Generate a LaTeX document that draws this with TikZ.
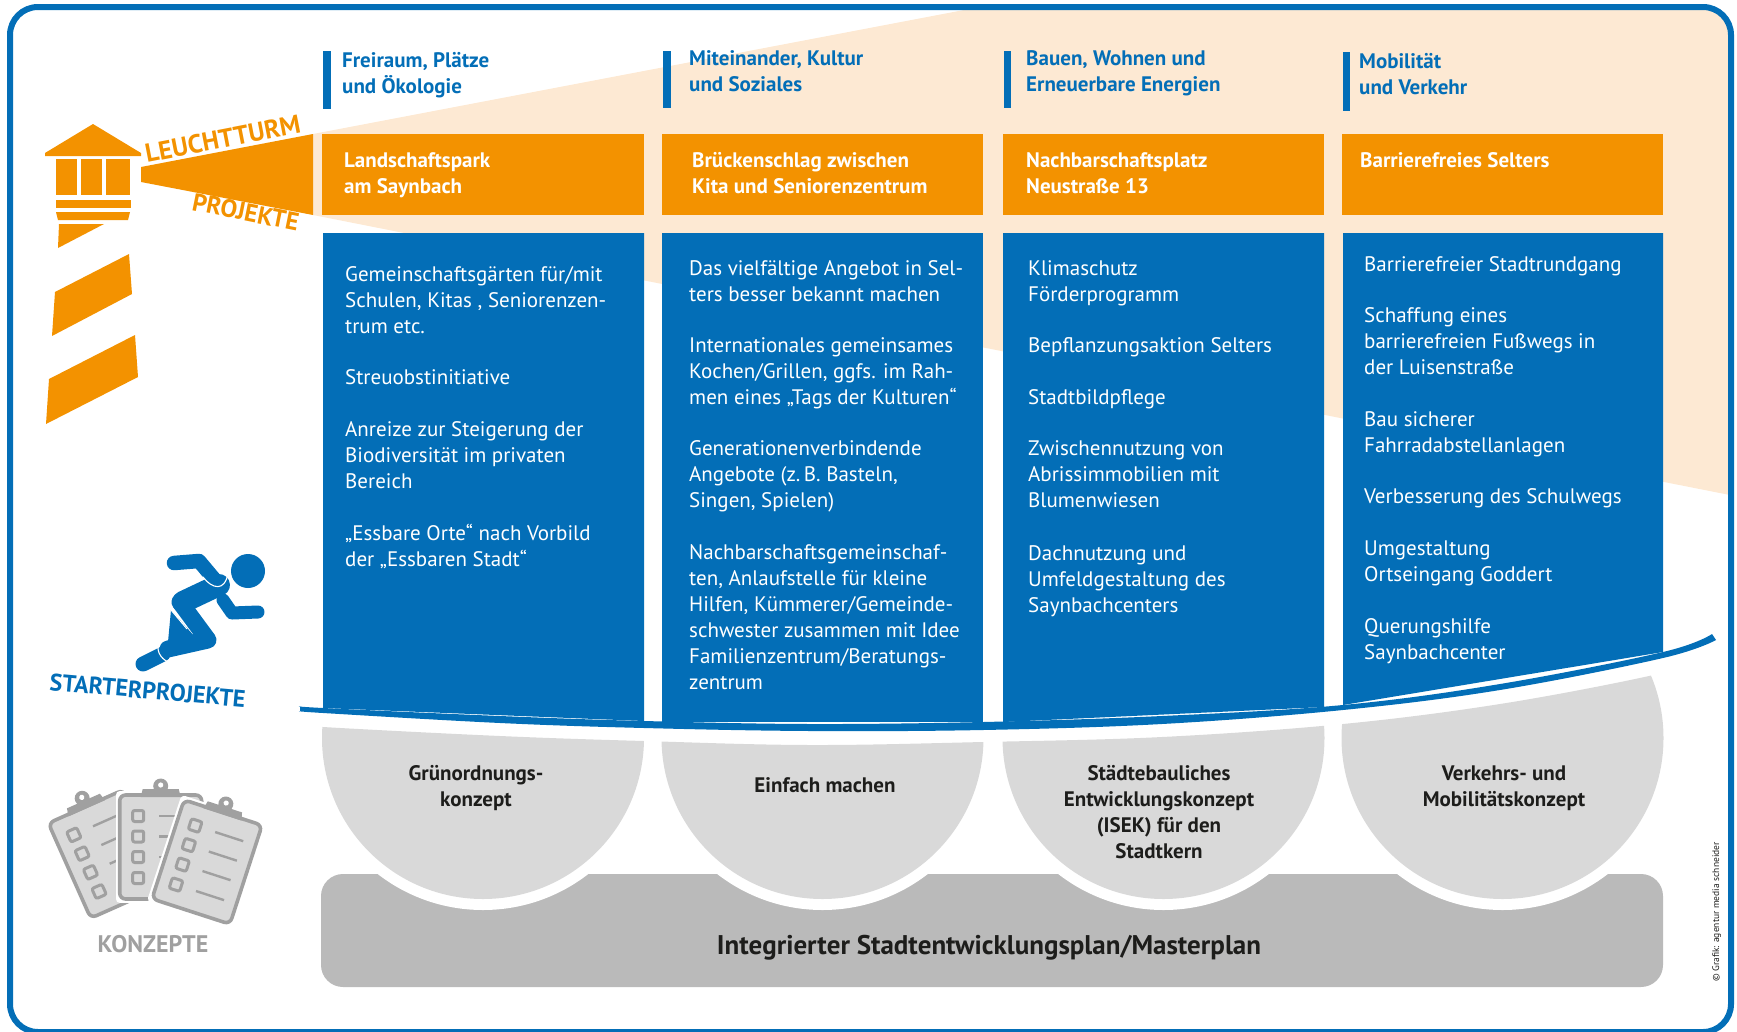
\documentclass[tikz,border=0pt]{standalone}
\usepackage{fontspec}
\setmainfont{PT Sans}
\definecolor{bl}{HTML}{036EB7}
\definecolor{org}{HTML}{F39200}
\definecolor{pale}{HTML}{FDE9D3}
\definecolor{lgray}{HTML}{D9D9D9}
\definecolor{mgray}{HTML}{BABABA}
\definecolor{dgray}{HTML}{A0A0A0}
\definecolor{ink}{HTML}{1D1D1B}
\newcommand{\fsz}[1]{\fontsize{#1}{26}\selectfont}
\tikzset{
  bodytext/.style={anchor=base west,inner sep=0pt,align=left,text=white,font=\fsz{21}},
  headtext/.style={anchor=base west,inner sep=0pt,align=left,text=bl,font=\fsz{21}\bfseries},
  projtext/.style={anchor=base west,inner sep=0pt,align=left,text=white,font=\fsz{21}\bfseries},
  konztext/.style={anchor=base,inner sep=0pt,align=center,text=ink,font=\fsz{21}\bfseries},
  slanted label/.style={anchor=base west,inner sep=0pt,font=\bfseries},
  clipboard/.pic={
    \draw[white,line width=8pt,line join=round] (-41,-52) rectangle (41,52);
    \draw[dgray,fill=lgray,line width=3.6pt,rounded corners=6pt] (-41,-52) rectangle (41,52);
    \fill[dgray] (-20,-50) -- (-18,-58) -- (18,-58) -- (20,-50) -- cycle;
    \fill[dgray] (0,-61) circle (7.5pt);
    \fill[white] (0,-62) circle (2.6pt);
    \foreach \v in {-31,-10.5,10,31}{
      \draw[dgray,line width=3pt,rounded corners=2pt] (-28,\v-5.5) rectangle (-17,\v+5.5);
      \draw[dgray,line width=2.4pt] (-1.5,\v) -- (28,\v);
    }
  }
}
\begin{document}
\begin{tikzpicture}[x=1pt,y=-1pt]
\useasboundingbox (0,0) rectangle (1737,1031);

% beam, pale
\begin{scope}
  \clip[rounded corners=28pt] (10,7) rectangle (1731,1060);
  \fill[pale] (313,134) -- (964,10) -- (1740,0) -- (1740,497) -- (313,215) -- cycle;
\end{scope}

% frame
\begin{scope}
  \clip (0,0) rectangle (1737,1031);
  \draw[bl,line width=6pt,rounded corners=28pt] (10,7) rectangle (1731,1032);
\end{scope}

% lighthouse
\fill[org] (93,124) -- (141,153) -- (141,156) -- (45,156) -- (45,153) -- cycle;
\fill[org] (56,159) rectangle (77,195);
\fill[org] (81,159) rectangle (102,195);
\fill[org] (106,159) rectangle (130,195);
\fill[org] (56,200) rectangle (131,208);
\fill[org] (56,212) -- (130,212) -- (128,220) -- (58,220) -- cycle;
\fill[org] (59,224) -- (104,224) -- (58,248) -- cycle;
\fill[org] (129,254) -- (132,294) -- (52,336) -- (55,292) -- cycle;
\fill[org] (135,335) -- (138,377) -- (46,424) -- (49,379) -- cycle;
\fill[org] (141,167) -- (313,134) -- (313,215) -- (141,182) -- cycle;
\node[slanted label,text=org,rotate=11,font=\fsz{26}\bfseries] (leuchtturm) at (147,163) {LEUCHTTURM};
\node[slanted label,text=org,rotate=-11.4,font=\fsz{25}\bfseries] (projekte) at (191,210) {PROJEKTE};

% header bars
\fill[bl] (323,51) rectangle (331,109);
\fill[bl] (663,51) rectangle (671,108);
\fill[bl] (1004,51) rectangle (1011,108);
\fill[bl] (1343,52) rectangle (1350,111);
\node[headtext] (h1) at (342,93) {Freiraum, Plätze\\und Ökologie};
\node[headtext] (h2) at (689,91) {Miteinander, Kultur\\und Soziales};
\node[headtext] (h3) at (1026,91) {Bauen, Wohnen und\\Erneuerbare Energien};
\node[headtext] (h4) at (1359,94) {Mobilität\\und Verkehr};

% orange boxes
\fill[org] (322,134) rectangle (644,215);
\fill[org] (662,134) rectangle (983,215);
\fill[org] (1003,134) rectangle (1324,215);
\fill[org] (1342,134) rectangle (1663,215);
\node[projtext] (p1) at (344,193) {Landschaftspark\\am Saynbach};
\node[projtext] (p2) at (692,193) {Brückenschlag zwischen\\Kita und Seniorenzentrum};
\node[projtext] (p3) at (1026,193) {Nachbarschaftsplatz\\Neustraße 13};
\node[projtext] (p4) at (1360,167) {Barrierefreies Selters};

% masterplan + halos + half circles
\fill[mgray,rounded corners=22pt] (321,874) rectangle (1663,987);
\begin{scope}
  \clip (300,800) rectangle (1700,1000);
  \foreach \cx in {483,822.5,1163.5,1502.5}
    \fill[white] (\cx,738) circle (172pt);
\end{scope}
\begin{scope}
  \clip plot[smooth,tension=.6] coordinates {(300,724) (323,727) (500,736) (644,741) (810,745) (983,742) (1162,737) (1343,724) (1500,704) (1649,676) (1700,660)} -- (1800,660) -- (1800,1000) -- (200,1000) -- cycle;
  \foreach \cx in {483,822.5,1163.5,1502.5}
    \fill[lgray] (\cx,738) circle (161pt);
\end{scope}

% blue boxes
\fill[bl] (323,233) -- (644,233) -- (644,721) -- (323,708) -- cycle;
\fill[bl] (662,233) -- (983,233) -- (983,722) -- (662,722) -- cycle;
\fill[bl] (1003,233) -- (1324,233) -- (1324,707) -- (1003,722) -- cycle;
\fill[bl] (1343,233) -- (1663,233) -- (1663,652) -- (1343,705) -- cycle;
% swoosh
\fill[bl] plot[smooth,tension=.6] coordinates {(300,706) (323,708) (500,716) (644,721) (810,724) (983,722) (1162,716) (1343,705) (1500,684) (1663,652) (1712,634)}
  -- plot[smooth,tension=.6] coordinates {(1716,640) (1663,658) (1500,690) (1343,710) (1162,724) (983,730) (810,731) (644,728) (500,723) (323,713) (300,711)} -- cycle;

% body text col 1
\node[bodytext] (a1) at (345,333) {Gemeinschaftsgärten für/mit\\Schulen, Kitas , Seniorenzen-\\trum etc.};
\node[bodytext] (a2) at (345,384) {Streuobstinitiative};
\node[bodytext] (a3) at (345,488) {Anreize zur Steigerung der\\Biodiversität im privaten\\Bereich};
\node[bodytext] (a4) at (345,566) {„Essbare Orte“ nach Vorbild\\der „Essbaren Stadt“};
% col 2
\node[bodytext] (b1) at (689,301) {Das vielfältige Angebot in Sel-\\ters besser bekannt machen};
\node[bodytext] (b2) at (689,404) {Internationales gemeinsames\\Kochen/Grillen, ggfs. im Rah-\\men eines „Tags der Kulturen“};
\node[bodytext] (b3) at (689,507) {Generationenverbindende\\Angebote (z.\,B. Basteln,\\Singen, Spielen)};
\node[bodytext] (b4) at (689,689) {Nachbarschaftsgemeinschaf-\\ten, Anlaufstelle für kleine\\Hilfen, Kümmerer/Gemeinde-\\schwester zusammen mit Idee\\Familienzentrum/Beratungs-\\zentrum};
% col 3
\node[bodytext] (c1) at (1028,301) {Klimaschutz\\Förderprogramm};
\node[bodytext] (c2) at (1028,352) {Bepflanzungsaktion Selters};
\node[bodytext] (c3) at (1028,404) {Stadtbildpflege};
\node[bodytext] (c4) at (1028,507) {Zwischennutzung von\\Abrissimmobilien mit\\Blumenwiesen};
\node[bodytext] (c5) at (1028,612) {Dachnutzung und\\Umfeldgestaltung des\\Saynbachcenters};
% col 4
\node[bodytext] (d1) at (1364,271) {Barrierefreier Stadtrundgang};
\node[bodytext] (d2) at (1364,374) {Schaffung eines\\barrierefreien Fußwegs in\\der Luisenstraße};
\node[bodytext] (d3) at (1364,452) {Bau sicherer\\Fahrradabstellanlagen};
\node[bodytext] (d4) at (1364,503) {Verbesserung des Schulwegs};
\node[bodytext] (d5) at (1364,581) {Umgestaltung\\Ortseingang Goddert};
\node[bodytext] (d6) at (1364,659) {Querungshilfe\\Saynbachcenter};

% concept texts
\node[konztext] (k1) at (476,806) {Grünordnungs-\\konzept};
\node[konztext] (k2) at (825,792) {Einfach machen};
\node[konztext] (k3) at (1159,858) {Städtebauliches\\Entwicklungskonzept\\(ISEK) für den\\Stadtkern};
\node[konztext] (k4) at (1504,806) {Verkehrs- und\\Mobilitätskonzept};
\node[anchor=base,inner sep=0pt,text=ink,font=\fsz{27}\bfseries] (master) at (989,954) {Integrierter Stadtentwicklungsplan/Masterplan};

% runner
\fill[bl] (248,571) circle (17pt);
\draw[bl,line width=14.5pt,line cap=round,line join=round] (174,563) -- (199,561) -- (220,586);
\draw[bl,line width=22pt,line cap=round,line join=round] (219,585) -- (183,602);
\draw[bl,line width=17pt,line cap=round,line join=round] (180,602) -- (208,640) -- (168,649);
\draw[bl,line width=15pt,line cap=round] (163,654) -- (143,664);
\fill[bl] (171,610) -- (168,642) -- (195,637) -- cycle;
\draw[bl,line width=13pt,line cap=round,line join=round] (223,600) -- (232,613) -- (258,612);
\draw[white,line width=1.1pt,line cap=round] (203,577) .. controls (212,589) and (225,592) .. (228,573);
\draw[white,line width=1.1pt,line cap=round] (159,643) .. controls (156,650) and (160,658) .. (168,662);
\draw[white,line width=1pt] (171,610) -- (187,629);
\node[slanted label,text=bl,rotate=-5.1,font=\fsz{24}\bfseries] (starter) at (49,690) {STARTERPROJEKTE};

% clipboards
\pic[rotate=24] at (107,854) {clipboard};
\pic at (160.7,847) {clipboard};
\pic[rotate=-18] at (207,862) {clipboard};
\node[anchor=base,inner sep=0pt,text=dgray,font=\fsz{24}\bfseries] (konzepte) at (153,952) {KONZEPTE};

% credit
\node[anchor=base west,inner sep=0pt,rotate=90,text=ink,font=\fsz{9.5}] (credit) at (1719,982) {© Grafik: agentur media schneider};
\end{tikzpicture}
\end{document}
